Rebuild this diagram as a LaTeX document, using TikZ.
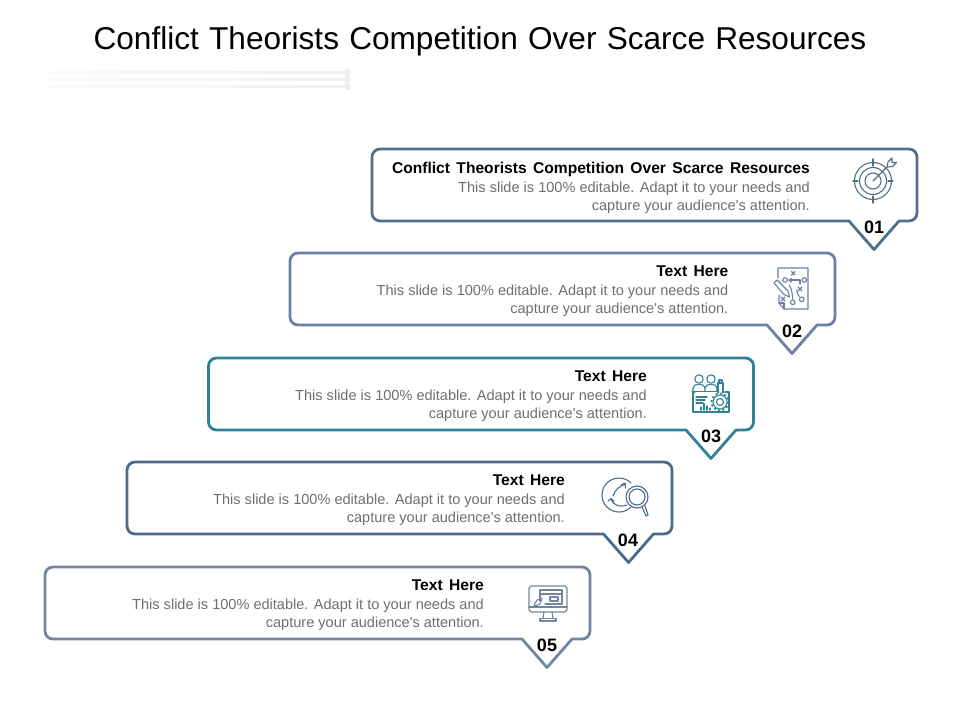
\documentclass[tikz,border=0pt]{standalone}
\usepackage{fontspec}
\setmainfont[Ligatures=TeXOff]{Liberation Sans}
\definecolor{cA}{HTML}{4F6F8C}
\definecolor{cB}{HTML}{6B80A6}
\definecolor{cC}{HTML}{2F8196}
\definecolor{cD}{HTML}{4A6B8C}
\definecolor{cE}{HTML}{74859F}
\definecolor{bodygrey}{HTML}{6E6E6E}
\newcommand{\callout}[4]{% left, top, tip x, colour
  \draw[boxline,draw=#4] (#1+8,#2) -- (#1+537,#2) .. controls (#1+541.4,#2) and (#1+545,#2+3.6) .. (#1+545,#2+8) -- (#1+545,#2+64) .. controls (#1+545,#2+68.4) and (#1+541.4,#2+72) .. (#1+537,#2+72) -- (#3+25,#2+72) -- (#3,#2+100.5) -- (#3-25,#2+72) -- (#1+8,#2+72) .. controls (#1+3.6,#2+72) and (#1,#2+68.4) .. (#1,#2+64) -- (#1,#2+8) .. controls (#1,#2+3.6) and (#1+3.6,#2) .. (#1+8,#2) -- cycle;
}
\newcommand{\bodytext}[4]{% name, right x, top y, heading
  \node[textblock] (#1) at (#2,#3) {{\fontsize{15.6}{18.5}\selectfont\bfseries\spaceskip=6.4pt\color{black}#4}\\This slide is 100\% editable. Adapt it to your needs and\\capture your audience's attention.};
}
\tikzset{
  boxline/.style={line width=2.8pt,line join=round},
  textblock/.style={anchor=north east,align=right,inner sep=0pt,text=bodygrey,font=\fontsize{14.55}{18.5}\selectfont},
  numlabel/.style={font=\fontsize{18}{20}\selectfont\bfseries,inner sep=0pt,text=black},
  icon/.style={line width=1.1pt,line cap=round,line join=round},
  deco/.style={left color=black!2,right color=black!6,draw=none},
}
\begin{document}
\begin{tikzpicture}[x=1pt,y=-1pt]
\useasboundingbox (0,0) rectangle (960,720);
\node[inner sep=0pt,font=\fontsize{31.6}{36}\selectfont] (title) at (480,41) {\spaceskip=10.2pt Conflict Theorists Competition Over Scarce Resources};
% decorative rules
\foreach \yy in {72.5,79.5,86.5}{
  \shade[deco] (48,\yy-1.3) rectangle (346,\yy+1.3);
  \fill[black!7] (347.5,\yy) circle[radius=3.6];
}
\callout{372}{149}{874}{cA}
\callout{290}{253}{792}{cB}
\callout{208.5}{358}{711}{cC}
\callout{127}{462}{628.5}{cD}
\callout{45}{567}{547}{cE}
\bodytext{t1}{810}{162}{Conflict Theorists Competition Over Scarce Resources}
\bodytext{t2}{728.5}{266}{Text Here}
\bodytext{t3}{647}{371}{Text Here}
\bodytext{t4}{565}{475}{Text Here}
\bodytext{t5}{484}{580}{Text Here}
\node[numlabel] (n1) at (874,227) {01};
\node[numlabel] (n2) at (792,331) {02};
\node[numlabel] (n3) at (711,436) {03};
\node[numlabel] (n4) at (628,540) {04};
\node[numlabel] (n5) at (547,645) {05};
% icon 1: target
\begin{scope}[icon,draw=cA,shift={(873,181)}]
  \draw (0,0) circle[radius=18.5];
  \draw (0,0) circle[radius=13.5];
  \draw (0,0) circle[radius=8];
  \draw (0,-22) -- (0,-15) (0,15) -- (0,22) (-20,0) -- (-15,0) (15,0) -- (20,0);
  \draw (0,0) -- (14,-14);
  \draw (14,-14) -- (15,-19) -- (19,-23) -- (19,-18.5) -- (23.5,-18.5) -- (19.5,-14.5) -- (14.5,-14);
\end{scope}
% icon 2: play diagram
\begin{scope}[icon,draw=cB,shift={(778,268)}]
  \draw (0,10) -- (0,0) -- (30,0) -- (30,41) -- (6,41) -- (1,35) -- (1,27);
  \draw (6,41) -- (6,35) -- (1,35);
  \draw (-4,15) -- (-1,12) -- (10,23) -- (11.5,29) -- (6,26.5) -- cycle;
  \draw (13.5,3.5) -- (17,7) (17,3.5) -- (13.5,7);
  \draw (7,12) circle[radius=2.3] (26.3,12) circle[radius=2.3] (14.7,34.3) circle[radius=2.3] (23.7,31.3) circle[radius=2.3];
  \draw (20,19) -- (24,23) (24,19) -- (20,23);
  \draw (3,29) -- (7,33) (7,29) -- (3,33);
  \draw (11,12) -- (22,12) -- (22,16);
  \draw (11,13) -- (13.5,10.5) (11,12) -- (13.5,14);
  \draw (11.3,17) .. controls (13.5,21) and (14.5,26) .. (14.7,31);
  \draw (18.7,22) .. controls (19,25) and (20,27) .. (21.3,28.7);
\end{scope}
% icon 3: team and gear
\begin{scope}[icon,draw=cC,shift={(693,388)}]
  \draw (32,4) -- (36,4) -- (36,24) -- (0,24) -- (0,4) -- (2,4);
  \draw (6,-9) circle[radius=4.2] (18,-9) circle[radius=4.2];
  \draw (0,3) -- (0,0) .. controls (0,-5) and (12,-5) .. (12,0) -- (12,3);
  \draw (12,0) .. controls (12,-5) and (24,-5) .. (24,0) -- (24,3);
  \draw (-1,3.5) -- (25,3.5);
  \draw (3,9) -- (14,9) (3,12) -- (12,12) (3,15) -- (10,15);
  \draw (8,22) -- (8,19) (11,22) -- (11,15.5) (14,22) -- (14,18) (17,22) -- (17,20);
  \draw (27,14) circle[radius=3.5];
  \draw (27,14) circle[radius=7];
  \draw[line width=1.8pt,dash pattern=on 2pt off 2.4pt,line cap=butt] (27,14) circle[radius=8.5];
  \draw (25,5) -- (25,-5) -- (30,-5) -- (30,5);
  \draw (26,-5) -- (26,-8) -- (29,-8) -- (29,-5);
\end{scope}
% icon 4: cycle with magnifier
\begin{scope}[icon,draw=cD,shift={(619,495)}]
  \draw (12,-12) arc[start angle=-45,end angle=-315,radius=17];
  \draw (-6,1) .. controls (-4,-5) and (0,-9) .. (7,-11);
  \draw (2,-10) -- (6,-12) -- (6.5,-7);
  \draw (-8,4) .. controls (-7,9) and (0,13) .. (8,10);
  \draw (-11,6) -- (-8,3.5) -- (-5,6.5);
  \draw (18,2) circle[radius=11];
  \draw (18,2) circle[radius=8];
  \draw (23,12) -- (27,21) -- (29,20) -- (26,11);
\end{scope}
% icon 5: monitor
\begin{scope}[icon,draw=cE,shift={(529,586)}]
  \draw (2,0) -- (36,0) -- (38,2) -- (38,24) -- (36,26) -- (2,26) -- (0,24) -- (0,2) -- cycle;
  \draw (0,21) -- (38,21);
  \draw (15,26) -- (14,32) (23,26) -- (24,32);
  \draw (11,35) -- (27,35) -- (27,32.5) -- (11,32.5) -- cycle;
  \draw (11,15) -- (11,4) -- (33,4) -- (33,18) -- (16,18);
  \draw (11,8) -- (33,8);
  \draw (21,11) -- (29,11) -- (29,15) -- (21,15) -- cycle;
  \draw (5,19) -- (8,14) -- (13,12.5) -- (11,18) -- (6,20) -- cycle;
\end{scope}
\end{tikzpicture}
\end{document}
